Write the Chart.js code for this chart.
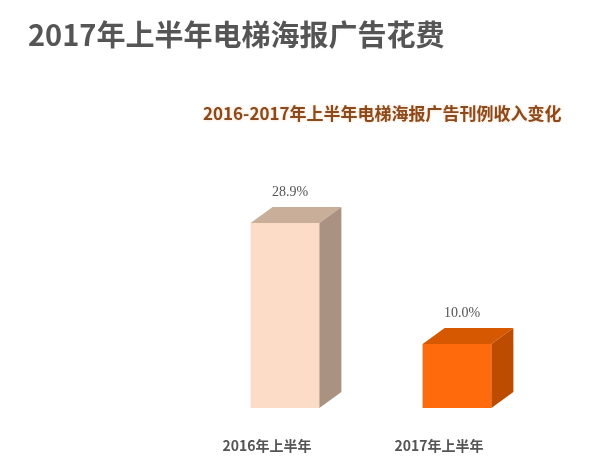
<!DOCTYPE html>
<html>
<head>
<meta charset="utf-8">
<script src="https://cdn.jsdelivr.net/npm/chart.js"></script>
<style>
  html, body { margin: 0; padding: 0; background: #fff; }
  #wrap { position: relative; width: 610px; height: 467px; }
  #title { position: absolute; left: 28px; top: 14px; font: bold 29px "Noto Sans CJK SC", sans-serif; color: #555; white-space: nowrap; line-height: 38px; }
  #subtitle { position: absolute; left: 203px; top: 101px; font: bold 17px "Noto Sans CJK SC", sans-serif; color: #8a4a1e; white-space: nowrap; line-height: 24px; text-shadow: 0 0 3px rgba(240,160,90,0.45); }
  canvas { position: absolute; left: 0; top: 0; }
</style>
</head>
<body>
<div id="wrap">
  <canvas id="chart" width="610" height="467"></canvas>
  <div id="title">2017年上半年电梯海报广告花费</div>
  <div id="subtitle">2016-2017年上半年电梯海报广告刊例收入变化</div>
</div>
<script>
const categories = ["2016年上半年", "2017年上半年"];
const shares = [28.9, 10.0];
const valueLabels = ["28.9%", "10.0%"];

const frontColors = ["#fddcc7", "#ff6a0c"];
const topColors = ["#c9ae9a", "#d65800"];
const sideColors = ["#a99281", "#bd4c00"];

const depthX = 22, depthY = 16;

// draws the top and side faces plus the value labels
const boxPlugin = {
  id: "box3d",
  afterDatasetsDraw(chart) {
    const ctx = chart.ctx;
    chart.getDatasetMeta(0).data.forEach((bar, i) => {
      const left = bar.x - bar.width / 2, right = bar.x + bar.width / 2;
      const top = bar.y, bottom = bar.base;
      ctx.save();
      ctx.fillStyle = topColors[i];
      ctx.beginPath();
      ctx.moveTo(left, top);
      ctx.lineTo(left + depthX, top - depthY);
      ctx.lineTo(right + depthX, top - depthY);
      ctx.lineTo(right, top);
      ctx.closePath();
      ctx.fill();
      ctx.fillStyle = sideColors[i];
      ctx.beginPath();
      ctx.moveTo(right, top);
      ctx.lineTo(right + depthX, top - depthY);
      ctx.lineTo(right + depthX, bottom - depthY);
      ctx.lineTo(right, bottom);
      ctx.closePath();
      ctx.fill();
      ctx.fillStyle = "#555";
      ctx.font = "14px 'Liberation Serif', serif";
      ctx.textAlign = "center";
      ctx.textBaseline = "middle";
      ctx.fillText(valueLabels[i], bar.x + 5, top - 31);
      ctx.restore();
    });
  }
};

new Chart(document.getElementById("chart"), {
  type: "bar",
  data: {
    labels: categories,
    datasets: [{
      data: shares,
      backgroundColor: frontColors,
      borderWidth: 0,
      barPercentage: 0.8,
      categoryPercentage: 0.5
    }]
  },
  options: {
    responsive: false,
    animation: false,
    layout: { padding: { left: 199, right: 67, top: 152, bottom: 13 } },
    scales: {
      x: {
        grid: { display: false, drawTicks: false },
        border: { display: false },
        afterFit(scale) { scale.height = 46; },
        ticks: {
          padding: 29,
          labelOffset: -18,
          color: "#555",
          font: { family: "'Noto Sans CJK SC', sans-serif", size: 14, weight: "bold" }
        }
      },
      y: { display: false, min: 0, max: 40 }
    },
    plugins: {
      legend: { display: false },
      tooltip: { enabled: false },
      title: { display: false }
    }
  },
  plugins: [boxPlugin]
});
</script>
</body>
</html>
